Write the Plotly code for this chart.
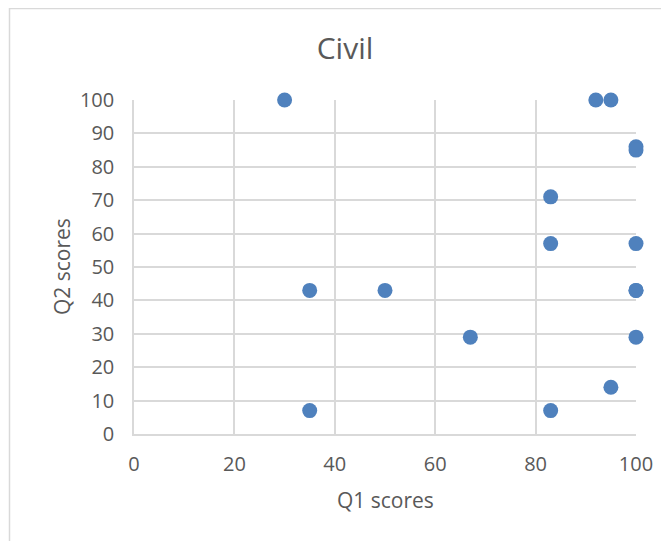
import plotly.graph_objects as go

q1_scores = [30, 92, 95, 100, 100, 83, 83, 100, 35, 50, 100, 100, 67, 100, 95, 35, 83]
q2_scores = [100, 100, 100, 86, 85, 71, 57, 57, 43, 43, 43, 43, 29, 29, 14, 7, 7]
x_ticks = [0, 20, 40, 60, 80, 100]
y_ticks = [0, 10, 20, 30, 40, 50, 60, 70, 80, 90, 100]

# page body has an 8px margin, so figure coordinates = screen - 8
W, H = 661, 533
L, R, T, B = 126, 33, 92, 107
pw, ph = W - L - R, H - T - B

fig = go.Figure(go.Scatter(
    x=q1_scores, y=q2_scores, mode="markers",
    marker=dict(size=15, color="#4F81BD", line=dict(width=0)),
    cliponaxis=False,
))

grid = "#D9D9D9"
font_gray = "#595959"
fam = "Open Sans"
fig.update_layout(
    width=W, height=H,
    margin=dict(l=L, r=R, t=T, b=B),
    paper_bgcolor="white", plot_bgcolor="white",
    font=dict(family=fam, color=font_gray),
    showlegend=False,
    title=dict(text="Civil", x=337 / W, xanchor="center", y=1 - 40 / H, yanchor="middle",
               font=dict(size=30, color=font_gray, family=fam)),
    xaxis=dict(range=[0, 100], tickvals=x_ticks, showgrid=True, gridcolor=grid, gridwidth=1.5,
               zeroline=False, showline=True, linecolor=grid, linewidth=1.5, ticks="",
               ticklabelstandoff=11,
               tickfont=dict(size=20, color=font_gray, family=fam)),
    yaxis=dict(range=[0, 100], tickvals=y_ticks, showgrid=True, gridcolor=grid, gridwidth=1.5,
               zeroline=False, showline=True, linecolor=grid, linewidth=1.5, ticks="",
               ticklabelstandoff=14,
               tickfont=dict(size=20, color=font_gray, family=fam)),
    annotations=[
        dict(text="Q1 scores", xref="paper", yref="paper", x=0.5, y=-(492 - T - ph) / ph,
             xanchor="center", yanchor="middle", showarrow=False,
             font=dict(size=21, color=font_gray, family=fam)),
        dict(text="Q2 scores", xref="paper", yref="paper", x=(54 - L) / pw, y=0.5,
             xanchor="center", yanchor="middle", showarrow=False, textangle=-90,
             font=dict(size=21, color=font_gray, family=fam)),
    ],
)

fig.add_shape(type="rect", xref="paper", yref="paper",
              x0=(1.5 - L) / pw, x1=(W + 5 - L) / pw,
              y0=-(H + 5 - T - ph) / ph, y1=(T + ph - 0.5) / ph,
              line=dict(color="#D9D9D9", width=1.5), fillcolor="rgba(0,0,0,0)", layer="below")

fig.write_html("out.html")
